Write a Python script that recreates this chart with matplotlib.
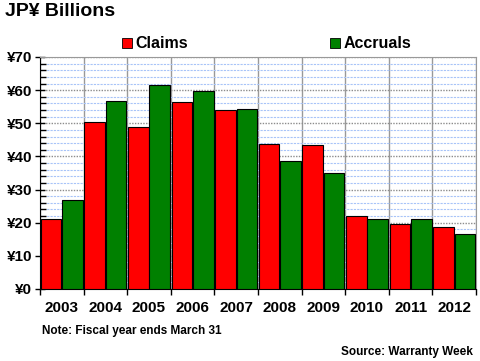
import numpy as np
import matplotlib.pyplot as plt
from matplotlib.ticker import MultipleLocator, FuncFormatter

plt.rcParams['font.family'] = ['Liberation Sans', 'DejaVu Sans']
plt.rcParams['font.weight'] = 'bold'

years = ['2003', '2004', '2005', '2006', '2007', '2008', '2009', '2010', '2011', '2012']
claims = [21.0, 50.5, 49.0, 56.3, 54.0, 43.8, 43.4, 21.9, 19.5, 18.8]
accruals = [27.0, 56.6, 61.7, 59.6, 54.2, 38.6, 35.1, 21.0, 21.0, 16.5]

fig = plt.figure(figsize=(4.8, 3.61), dpi=100)
ax = fig.add_axes([40 / 480, 1 - 289 / 361, 436 / 480, 232 / 361])

x = np.arange(len(years))
w = 0.47
ax.bar(x - w / 2 - 0.01, claims, w, color='#ff0000', edgecolor='black', linewidth=0.8, zorder=3)
ax.bar(x + w / 2 + 0.01, accruals, w, color='#008000', edgecolor='black', linewidth=0.8, zorder=3)

ax.set_xlim(-0.5, len(years) - 0.5)
ax.set_ylim(0, 70)

ax.yaxis.set_major_locator(MultipleLocator(10))
ax.yaxis.set_minor_locator(MultipleLocator(2))
ax.yaxis.set_major_formatter(FuncFormatter(lambda v, p: '¥%d' % v))
ax.set_xticks(x)
ax.set_xticklabels(years)
ax.set_xticks(np.arange(-0.5, len(years)), minor=True)

ax.grid(which='minor', axis='y', color='#a8c4f8', linestyle=(0, (2, 1)), linewidth=0.8, zorder=0)
ax.grid(which='major', axis='y', color='#8c8c8c', linestyle=(0, (1, 1)), linewidth=1.0, zorder=1)
ax.grid(which='minor', axis='x', color='#999999', linestyle='-', linewidth=1.0, zorder=1)

ax.tick_params(axis='y', which='major', direction='inout', length=7, width=1, labelsize=11, pad=2)
ax.tick_params(axis='y', which='minor', direction='in', length=4, width=1)
ax.tick_params(axis='x', which='major', length=0, labelsize=11, pad=9)
ax.tick_params(axis='x', which='minor', direction='out', length=4, width=1)

for s in ['top', 'right']:
    ax.spines[s].set_color('#999999')
    ax.spines[s].set_linestyle((0, (1, 1)))
ax.spines['bottom'].set_color('black')
ax.spines['left'].set_color('black')

fig.text(5 / 480, 1 - 12 / 361, 'JP¥ Billions', fontsize=14, fontweight='bold', va='center', ha='left')

# legend
fig.patches.append(plt.Rectangle((122 / 480, 1 - 48 / 361), 10 / 480, 10 / 361, transform=fig.transFigure,
                                 facecolor='#ff0000', edgecolor='black', linewidth=0.6))
fig.text(135 / 480, 1 - 43 / 361, 'Claims', fontsize=11.5, fontweight='bold', va='center', ha='left')
fig.patches.append(plt.Rectangle((330 / 480, 1 - 48 / 361), 10 / 480, 10 / 361, transform=fig.transFigure,
                                 facecolor='#008000', edgecolor='black', linewidth=0.6))
fig.text(344 / 480, 1 - 43 / 361, 'Accruals', fontsize=11.5, fontweight='bold', va='center', ha='left')

fig.text(42 / 480, 1 - 331 / 361, 'Note: Fiscal year ends March 31', fontsize=8.5, fontweight='bold',
         va='center', ha='left')
fig.text(473 / 480, 1 - 352 / 361, 'Source: Warranty Week', fontsize=8.5, fontweight='bold',
         va='center', ha='right')

fig.savefig('out.png', dpi=100)
